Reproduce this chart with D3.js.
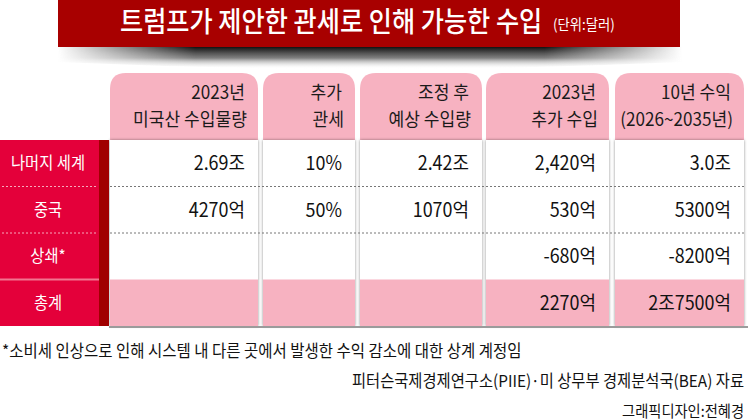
<!DOCTYPE html>
<html><head><meta charset="utf-8">
<script src="https://cdn.jsdelivr.net/npm/d3@7"></script>
<style>
html,body{margin:0;padding:0;background:#fff;}
svg{display:block;}
text{font-family:"Noto Sans CJK KR","Noto Sans",sans-serif;}
</style></head>
<body>
<svg id="chart" width="748" height="420"></svg>
<script>
// ---------- data ----------
const title = "트럼프가 제안한 관세로 인해 가능한 수입";
const unitLabel = "(단위:달러)";
const headerLine1 = ["2023년", "추가", "조정 후", "2023년", "10년 수익"];
const headerLine2 = ["미국산 수입물량", "관세", "예상 수입량", "추가 수입", "(2026~2035년)"];
const rowLabels = ["나머지 세계", "중국", "상쇄*", "총계"];
const importVolume2023 = ["2.69조", "4270억", "", ""];
const addedTariff = ["10%", "50%", "", ""];
const adjustedImports = ["2.42조", "1070억", "", ""];
const extraRevenue2023 = ["2,420억", "530억", "-680억", "2270억"];
const revenue10yr = ["3.0조", "5300억", "-8200억", "2조7500억"];
const footnote = "*소비세 인상으로 인해 시스템 내 다른 곳에서 발생한 수익 감소에 대한 상계 계정임";
const source = "피터슨국제경제연구소(PIIE)·미 상무부 경제분석국(BEA) 자료";
const credit = "그래픽디자인:전혜경";

const valueColumns = [importVolume2023, addedTariff, adjustedImports, extraRevenue2023, revenue10yr];

// ---------- layout ----------
const svg = d3.select("#chart");
const colKeys = d3.range(headerLine1.length);
const colLeft = d3.scaleOrdinal().domain(colKeys).range([110, 263, 360, 486, 615]);
const colRight = d3.scaleOrdinal().domain(colKeys).range([258, 355, 482, 609, 744]);
const y = d3.scaleBand().domain(rowLabels).range([140, 326]).paddingInner(0).paddingOuter(0);

function txt(g, x, yy, s, o) {
  return g.append("text")
    .attr("transform", `translate(${x},${yy}) scale(${o.sx || 1},1)`)
    .attr("text-anchor", o.anchor || "start")
    .attr("font-size", o.size)
    .attr("font-weight", o.weight || 400)
    .attr("fill", o.fill || "#111")
    .text(s);
}

const defs = svg.append("defs");
const vg = defs.append("linearGradient").attr("id", "shv").attr("x1", 0).attr("y1", 0).attr("x2", 0).attr("y2", 1);
vg.append("stop").attr("offset", 0).attr("stop-color", "#111").attr("stop-opacity", 1);
vg.append("stop").attr("offset", 0.5).attr("stop-color", "#555").attr("stop-opacity", 0.75);
vg.append("stop").attr("offset", 1).attr("stop-color", "#fff").attr("stop-opacity", 0);
const hg = defs.append("linearGradient").attr("id", "shh").attr("x1", 0).attr("y1", 0).attr("x2", 1).attr("y2", 0);
[[0, 0], [0.22, 1], [0.78, 1], [1, 0]].forEach(([o, a]) =>
  hg.append("stop").attr("offset", o).attr("stop-color", "#fff").attr("stop-opacity", a));
const mask = defs.append("mask").attr("id", "shm").attr("maskUnits", "userSpaceOnUse")
  .attr("x", 0).attr("y", 0).attr("width", 748).attr("height", 100);
mask.append("rect").attr("x", 58).attr("y", 40).attr("width", 624).attr("height", 40).attr("fill", "url(#shh)");
const flt = defs.append("filter").attr("id", "colsh").attr("x", -0.1).attr("y", -0.05).attr("width", 1.2).attr("height", 1.1);
flt.append("feDropShadow").attr("dx", 0).attr("dy", 0).attr("stdDeviation", 1.6)
  .attr("flood-color", "#000").attr("flood-opacity", 0.45);

// banner shadow
svg.append("path")
  .attr("d", "M58,47 L682,47 L682,62 Q370,76 58,62 Z")
  .attr("fill", "url(#shv)").attr("mask", "url(#shm)");
// banner
svg.append("rect").attr("x", 58).attr("y", 0).attr("width", 622).attr("height", 47).attr("fill", "#a80000");
txt(svg, 120, 32, title, {size: 28, sx: 0.9, fill: "#fff", weight: 500});
txt(svg, 553, 30, unitLabel, {size: 14.5, sx: 0.92, fill: "#fff"});

// header tabs
const rad = 16, tabTop = 73, tabBottom = 140;
svg.selectAll("path.tab").data(colKeys).join("path").attr("class", "tab")
  .attr("d", i => {
    const l = colLeft(i), rr = colRight(i);
    return `M${l},${tabBottom} L${l},${tabTop + rad} Q${l},${tabTop} ${l + rad},${tabTop} L${rr - rad},${tabTop} Q${rr},${tabTop} ${rr},${tabTop + rad} L${rr},${tabBottom} Z`;
  })
  .attr("fill", "#f7b2c1");
colKeys.forEach(i => {
  txt(svg, colRight(i) - 13, 99, headerLine1[i], {size: 18, sx: 0.95, anchor: "end", fill: "#1a1a1a"});
  txt(svg, colRight(i) - 11, 126, headerLine2[i], {size: 18, sx: 0.95, anchor: "end", fill: "#1a1a1a"});
});

// data columns (white body + pink total)
const totalRow = rowLabels[rowLabels.length - 1];
const colG = svg.append("g");
colG.selectAll("rect.col").data(colKeys).join("rect").attr("class", "col")
  .attr("x", i => colLeft(i)).attr("y", y.range()[0])
  .attr("width", i => colRight(i) - colLeft(i)).attr("height", y.range()[1] - y.range()[0])
  .attr("fill", "#fff").attr("filter", "url(#colsh)");
colG.selectAll("rect.tot").data(colKeys).join("rect").attr("class", "tot")
  .attr("x", i => colLeft(i)).attr("y", y(totalRow))
  .attr("width", i => colRight(i) - colLeft(i)).attr("height", y.bandwidth())
  .attr("fill", "#f7b2c1");
svg.append("rect").attr("x", 109).attr("y", y.range()[1]).attr("width", 639).attr("height", 2).attr("fill", "#9b9b9b");

// row label column
svg.append("rect").attr("x", 0).attr("y", y.range()[0]).attr("width", 99).attr("height", y.range()[1] - y.range()[0]).attr("fill", "#e4003a");
svg.append("rect").attr("x", 99).attr("y", y.range()[0]).attr("width", 10).attr("height", y.range()[1] - y.range()[0]).attr("fill", "#a00000");

// dotted separators
rowLabels.slice(1, -1).forEach(lab => {
  svg.append("line").attr("x1", 2).attr("x2", 97).attr("y1", y(lab)).attr("y2", y(lab))
    .attr("stroke", "#f7a9bb").attr("stroke-width", 1).attr("stroke-dasharray", "2,2");
  svg.append("line").attr("x1", 110).attr("x2", 744).attr("y1", y(lab)).attr("y2", y(lab))
    .attr("stroke", "#777").attr("stroke-width", 1).attr("stroke-dasharray", "2,2");
});
svg.append("rect").attr("x", 0).attr("y", y(totalRow) - 1).attr("width", 99).attr("height", 2).attr("fill", "#f1758f");

rowLabels.forEach(lab => {
  txt(svg, 48, y(lab) + y.bandwidth() / 2 + 6, lab, {size: 16.5, sx: 0.93, anchor: "middle", fill: "#fff"});
});
valueColumns.forEach((vals, i) => {
  vals.forEach((v, j) => {
    if (!v) return;
    txt(svg, colRight(i) - 13, y(rowLabels[j]) + y.bandwidth() / 2 + 7, v, {size: 19.5, sx: 0.92, anchor: "end", fill: "#111"});
  });
});

txt(svg, 2, 357, footnote, {size: 16.5, sx: 0.94, fill: "#111"});
txt(svg, 744, 387, source, {size: 16.5, sx: 0.93, anchor: "end", fill: "#111"});
txt(svg, 744, 417, credit, {size: 15.5, sx: 0.92, anchor: "end", fill: "#111"});
</script>
</body></html>
